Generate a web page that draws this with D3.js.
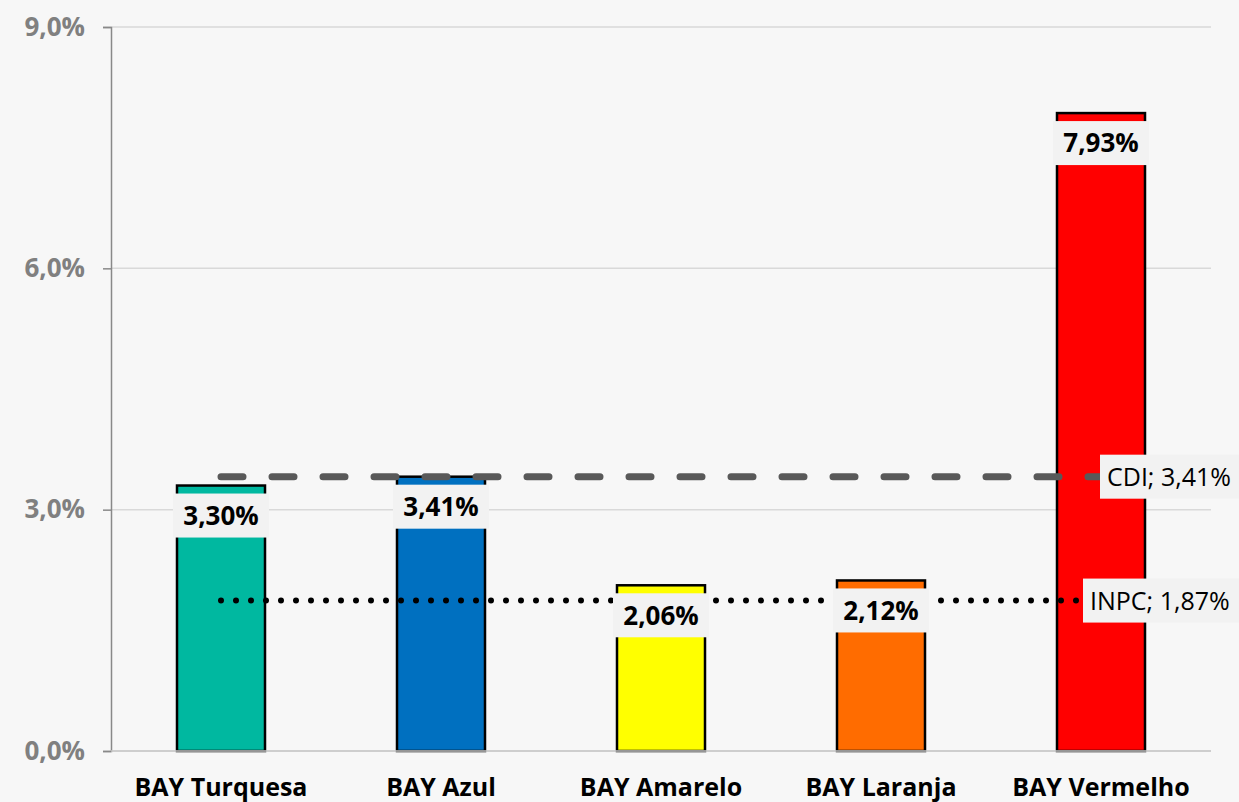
<!DOCTYPE html>
<html>
<head>
<meta charset="utf-8">
<script src="https://cdn.jsdelivr.net/npm/d3@7"></script>
<style>
  body { margin: 0; background: #f7f7f7; }
  svg { display: block; font-family: "Open Sans", Roboto, sans-serif; }
</style>
</head>
<body>
<div id="contents"></div>
<script>
var categories = ["BAY Turquesa", "BAY Azul", "BAY Amarelo", "BAY Laranja", "BAY Vermelho"];
var values = [3.30, 3.41, 2.06, 2.12, 7.93];
var colors = ["#00b8a0", "#0070c0", "#ffff00", "#ff6c00", "#ff0000"];
var yTicks = [0, 3, 6, 9];
var cdiValue = 3.41;
var inpcValue = 1.87;

var width = 1239, height = 802;
var margin = {top: 27, right: 28, bottom: 51, left: 111};
var font = "'Open Sans', Roboto, sans-serif";

var fmt = function(v, d){ return v.toFixed(d).replace(".", ",") + "%"; };

var svg = d3.select("#contents").append("svg")
            .attr("width", width)
            .attr("height", height);

svg.append("rect").attr("width", width).attr("height", height).attr("fill", "#f7f7f7");

var x = d3.scaleBand()
          .domain(categories)
          .range([margin.left, width - margin.right])
          .paddingInner(0.6)
          .paddingOuter(0.3);

var y = d3.scaleLinear()
          .domain([0, 9])
          .range([height - margin.bottom, margin.top]);

// gridlines
svg.append("g").selectAll("line")
   .data(yTicks)
   .enter().append("line")
     .attr("x1", margin.left)
     .attr("x2", width - margin.right)
     .attr("y1", function(d){ return y(d); })
     .attr("y2", function(d){ return y(d); })
     .attr("stroke", "#d9d9d9")
     .attr("stroke-width", 1.5);

// y axis
var yAxis = svg.append("g")
   .attr("transform", "translate(" + margin.left + ",0)")
   .call(d3.axisLeft(y).tickValues(yTicks).tickSize(8).tickPadding(18)
            .tickFormat(function(d){ return fmt(d, 1); }));
yAxis.select(".domain").attr("stroke", "#898989").attr("stroke-width", 1.5);
yAxis.selectAll(".tick line").attr("stroke", "#898989").attr("stroke-width", 1.5);
yAxis.selectAll(".tick text")
     .attr("fill", "#808080")
     .attr("font-size", 26)
     .attr("font-weight", "bold")
     .attr("font-family", font);

// bars
svg.append("g").selectAll("rect")
   .data(values)
   .enter().append("rect")
     .attr("x", function(d, i){ return x(categories[i]); })
     .attr("y", function(d){ return y(d); })
     .attr("width", x.bandwidth())
     .attr("height", function(d){ return y(0) - y(d); })
     .attr("fill", function(d, i){ return colors[i]; })
     .attr("stroke", "#000")
     .attr("stroke-width", 2.5);

// bottom axis line
svg.append("line")
   .attr("x1", margin.left).attr("x2", width - margin.right)
   .attr("y1", y(0)).attr("y2", y(0))
   .attr("stroke", "#c8c8c8").attr("stroke-width", 1.5);

// x labels
svg.append("g").selectAll("text")
   .data(categories)
   .enter().append("text")
     .attr("x", function(d){ return x(d) + x.bandwidth() / 2; })
     .attr("y", 796)
     .attr("text-anchor", "middle")
     .attr("font-size", 25)
     .attr("font-weight", "bold")
     .attr("fill", "#000")
     .text(function(d){ return d; });

// reference lines
var xStart = x(categories[0]) + x.bandwidth() / 2;
var xEnd = x(categories[categories.length - 1]) + x.bandwidth() / 2;

svg.append("line")
   .attr("x1", xStart).attr("x2", xEnd)
   .attr("y1", y(cdiValue)).attr("y2", y(cdiValue))
   .attr("stroke", "#595959")
   .attr("stroke-width", 7)
   .attr("stroke-linecap", "round")
   .attr("stroke-dasharray", "22,29");

svg.append("line")
   .attr("x1", xStart).attr("x2", xEnd)
   .attr("y1", y(inpcValue)).attr("y2", y(inpcValue))
   .attr("stroke", "#000")
   .attr("stroke-width", 6)
   .attr("stroke-linecap", "round")
   .attr("stroke-dasharray", "0,15");

// data labels
var labels = svg.append("g").selectAll("g")
   .data(values)
   .enter().append("g")
     .attr("transform", function(d, i){
        return "translate(" + (x(categories[i]) + x.bandwidth() / 2) + "," + (y(d) + 30) + ")";
     });
labels.append("rect")
   .attr("x", -48).attr("y", -22)
   .attr("width", 96).attr("height", 44)
   .attr("fill", "#f2f2f2");
labels.append("text")
   .attr("text-anchor", "middle")
   .attr("dy", "0.36em")
   .attr("font-size", 26)
   .attr("font-weight", "bold")
   .attr("fill", "#000")
   .text(function(d){ return fmt(d, 2); });

// line labels
var lineLabels = [
  {name: "CDI", value: cdiValue, x0: 1100},
  {name: "INPC", value: inpcValue, x0: 1083}
];
var ll = svg.append("g").selectAll("g")
   .data(lineLabels)
   .enter().append("g")
     .attr("transform", function(d){ return "translate(" + d.x0 + "," + y(d.value) + ")"; });
ll.append("rect")
   .attr("x", 0).attr("y", -22)
   .attr("width", function(d){ return width - d.x0; })
   .attr("height", 44)
   .attr("fill", "#f2f2f2");
ll.append("text")
   .attr("x", 7)
   .attr("dy", "0.36em")
   .attr("font-size", 25)
   .attr("fill", "#000")
   .text(function(d){ return d.name + "; " + fmt(d.value, 2); });
</script>
</body>
</html>
